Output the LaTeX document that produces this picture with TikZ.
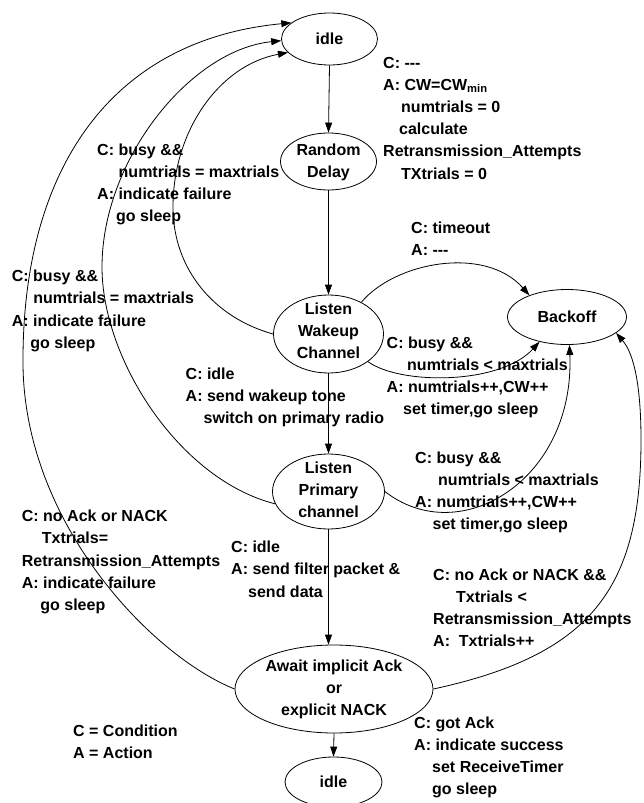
\documentclass[tikz,border=0pt]{standalone}
\usepackage{fontspec}
\setmainfont{Liberation Sans}
\usetikzlibrary{shapes.geometric,arrows.meta}
\tikzset{
  st/.style={ellipse, draw, line width=0.8pt, inner sep=0pt},
  lbl/.style={align=center, inner sep=0pt, font=\fontsize{16}{22}\selectfont\bfseries},
  txt/.style={align=left, anchor=base west, inner sep=0pt, font=\fontsize{16}{22.2}\selectfont\bfseries},
  tr/.style={draw, line width=0.8pt, -{Triangle[length=10pt,width=7pt]}}
}
\begin{document}
\begin{tikzpicture}[x=1pt,y=-1pt]
\useasboundingbox (0,0) rectangle (643,803);
% states
\node[st, minimum width=96pt, minimum height=52pt] (idle) at (329.5,39) {};
\node[lbl] (idlet) at (329.5,39) {idle};
\node[st, minimum width=96pt, minimum height=57pt] (rd) at (328.5,161.5) {};
\node[lbl] (rdt) at (328.5,162) {Random\\Delay};
\node[st, minimum width=110pt, minimum height=78pt] (lw) at (328.5,334) {};
\node[lbl] (lwt) at (328.5,330.5) {Listen\\Wakeup\\Channel};
\node[st, minimum width=112pt, minimum height=75pt] (lp) at (328.5,491.5) {};
\node[lbl] (lpt) at (328.5,490) {Listen\\Primary\\channel};
\node[st, minimum width=198pt, minimum height=88pt] (aw) at (334,689) {};
\node[lbl] (awt) at (334,689.5) {Await implicit Ack\\or\\explicit NACK};
\node[st, minimum width=97pt, minimum height=50pt] (id2) at (333.5,782) {};
\node[lbl] (id2t) at (333.5,782) {idle};
\node[st, minimum width=119pt, minimum height=55pt] (bo) at (567,317) {};
\node[lbl] (bot) at (567,317) {Backoff};
% straight transitions
\draw[tr] (idle.south) -- (rd.north);
\draw[tr] (rd.south) -- (lw.north);
\draw[tr] (lw.south) -- (lp.north);
\draw[tr] (lp.south) -- (lp.south |- aw.north);
\draw[tr] (aw.south) -- (id2.north);
% curved transitions back to idle
\draw[tr] (lw.west) .. controls (215,318) and (173,270) .. (173,207) .. controls (173,130) and (220,65) .. (idle.198);
\draw[tr] (lp.193) .. controls (180,480) and (102,360) .. (102,267) .. controls (102,160) and (190,50) .. (idle.182);
\draw[tr] (aw.west) .. controls (150,655) and (22,520) .. (23,360) .. controls (23,170) and (110,40) .. (idle.157);
% transitions to backoff
\draw[tr] (lw.44) .. controls (395,262) and (485,245) .. (bo.150);
\draw[tr] (lw.-35) .. controls (400,385) and (500,385) .. (bo.222);
\draw[tr] (lp.east) .. controls (460,550) and (575,480) .. (bo.-85);
\draw[tr] (aw.east) .. controls (590,655) and (641,590) .. (641,440) .. controls (641,390) and (635,355) .. (bo.-18);
% labels (coordinates = baseline of the last line)
\node[txt] (ta) at (383,179) {C: -{}-{}-\\A: CW=CW\textsubscript{min}\\\hspace*{18pt}numtrials = 0\\\hspace*{16pt}calculate\\Retransmission\_Attempts\\\hspace*{18pt}TXtrials = 0};
\node[txt] (tb) at (411,255.2) {C: timeout\\A: -{}-{}-};
\node[txt] (tc) at (97,221.6) {C: busy \&\&\\\hspace*{21.5pt}numtrials = maxtrials\\A: indicate failure\\\hspace*{19pt}go sleep};
\node[txt] (td) at (11.7,348.3) {C: busy \&\&\\\hspace*{21.5pt}numtrials = maxtrials\\A: indicate failure\\\hspace*{18.5pt}go sleep};
\node[txt] (te) at (185.5,423.4) {C: idle\\A: send wakeup tone\\\hspace*{18pt}switch on primary radio};
\node[txt] (tf) at (386.5,414.6) {C: busy \&\&\\\hspace*{20.5pt}numtrials < maxtrials\\A: numtrials++,CW++\\\hspace*{16.5pt}set timer,go sleep};
\node[txt] (tg) at (415,529.6) {C: busy \&\&\\\hspace*{23pt}numtrials < maxtrials\\A: numtrials++,CW++\\\hspace*{17.5pt}set timer,go sleep};
\node[txt] (th) at (433,646.6) {C: no Ack or NACK \&\&\\\hspace*{23pt}Txtrials <\\Retransmission\_Attempts\\A:\ \ Txtrials++};
\node[txt] (ti) at (21.7,610.5) {C: no Ack or NACK\\\hspace*{20pt}Txtrials=\\Retransmission\_Attempts\\A: indicate failure\\\hspace*{18.5pt}go sleep};
\node[txt] (tj) at (231,597.1) {C: idle\\A: send filter packet \&\\\hspace*{17pt}send data};
\node[txt] (tk) at (73,758.9) {C = Condition\\A = Action};
\node[txt] (tl) at (414,794.6) {C: got Ack\\A: indicate success\\\hspace*{18pt}set ReceiveTimer\\\hspace*{18pt}go sleep};
\end{tikzpicture}
\end{document}
